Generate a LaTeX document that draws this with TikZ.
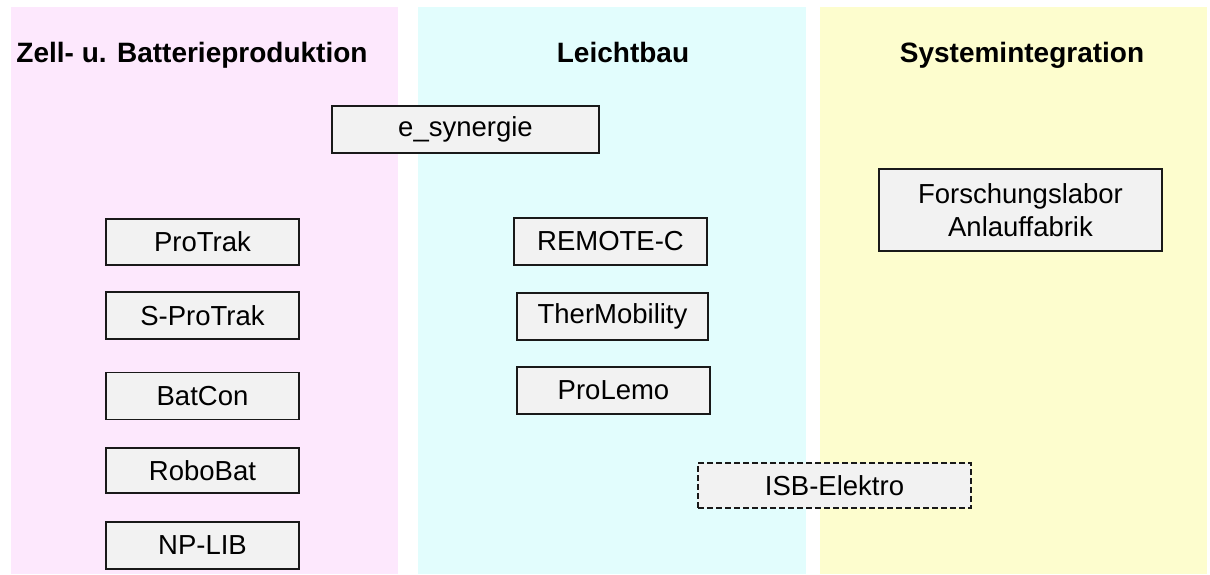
\documentclass[tikz,border=0pt]{standalone}
\usepackage{fontspec}
\setmainfont{Liberation Sans}
\begin{document}
\begin{tikzpicture}[x=1pt,y=-1pt,
  title/.style={font=\fontsize{28}{32}\selectfont\bfseries, inner sep=0pt, anchor=base},
  box/.style={draw=black!90, fill=boxgray, line width=1.2pt, inner sep=0pt,
    font=\fontsize{27.5}{32.5}\selectfont, align=center},
  dbox/.style={box, dash pattern=on 6pt off 3pt}]
\definecolor{pinkbg}{RGB}{253,232,253}
\definecolor{cyanbg}{RGB}{226,253,253}
\definecolor{yellowbg}{RGB}{253,253,206}
\definecolor{boxgray}{RGB}{242,242,242}
\useasboundingbox (0,0) rectangle (1210,575);
\fill[pinkbg] (11,7) rectangle (398,574);
\fill[cyanbg] (418,7) rectangle (806,574);
\fill[yellowbg] (820,7) rectangle (1207,574);
\node[title] (t1) at (192,63) {Zell- u. Batterieproduktion};
\node[title] (t2) at (623,63) {Leichtbau};
\node[title] (t3) at (1022,63) {Systemintegration};
\node[box, minimum width=267pt, minimum height=47pt] (esyn) at (465.5,129.5) {e\_synergie};
\node[box, minimum width=193pt, minimum height=46pt] (protrak) at (202.5,242) {ProTrak};
\node[box, minimum width=193pt, minimum height=47pt] (sprotrak) at (202.5,315.5) {S-ProTrak};
\node[box, minimum width=193pt, minimum height=47pt] (batcon) at (202.5,396) {BatCon};
\node[box, minimum width=193pt, minimum height=45pt] (robobat) at (202.5,470.5) {RoboBat};
\node[box, minimum width=193pt, minimum height=47pt] (nplib) at (202.5,545.5) {NP-LIB};
\node[box, minimum width=193pt, minimum height=47pt] (remote) at (610.5,241.5) {REMOTE-C};
\node[box, minimum width=191pt, minimum height=47pt] (thermo) at (612.5,316.5) {TherMobility};
\node[box, minimum width=193pt, minimum height=47pt] (prolemo) at (613.5,390.5) {ProLemo};
\node[box, minimum width=283pt, minimum height=82pt] (forsch) at (1020.5,210) {Forschungslabor\\Anlauffabrik};
\node[dbox, minimum width=273pt, minimum height=45pt] (isb) at (834.5,485.5) {ISB-Elektro};
\end{tikzpicture}
\end{document}
